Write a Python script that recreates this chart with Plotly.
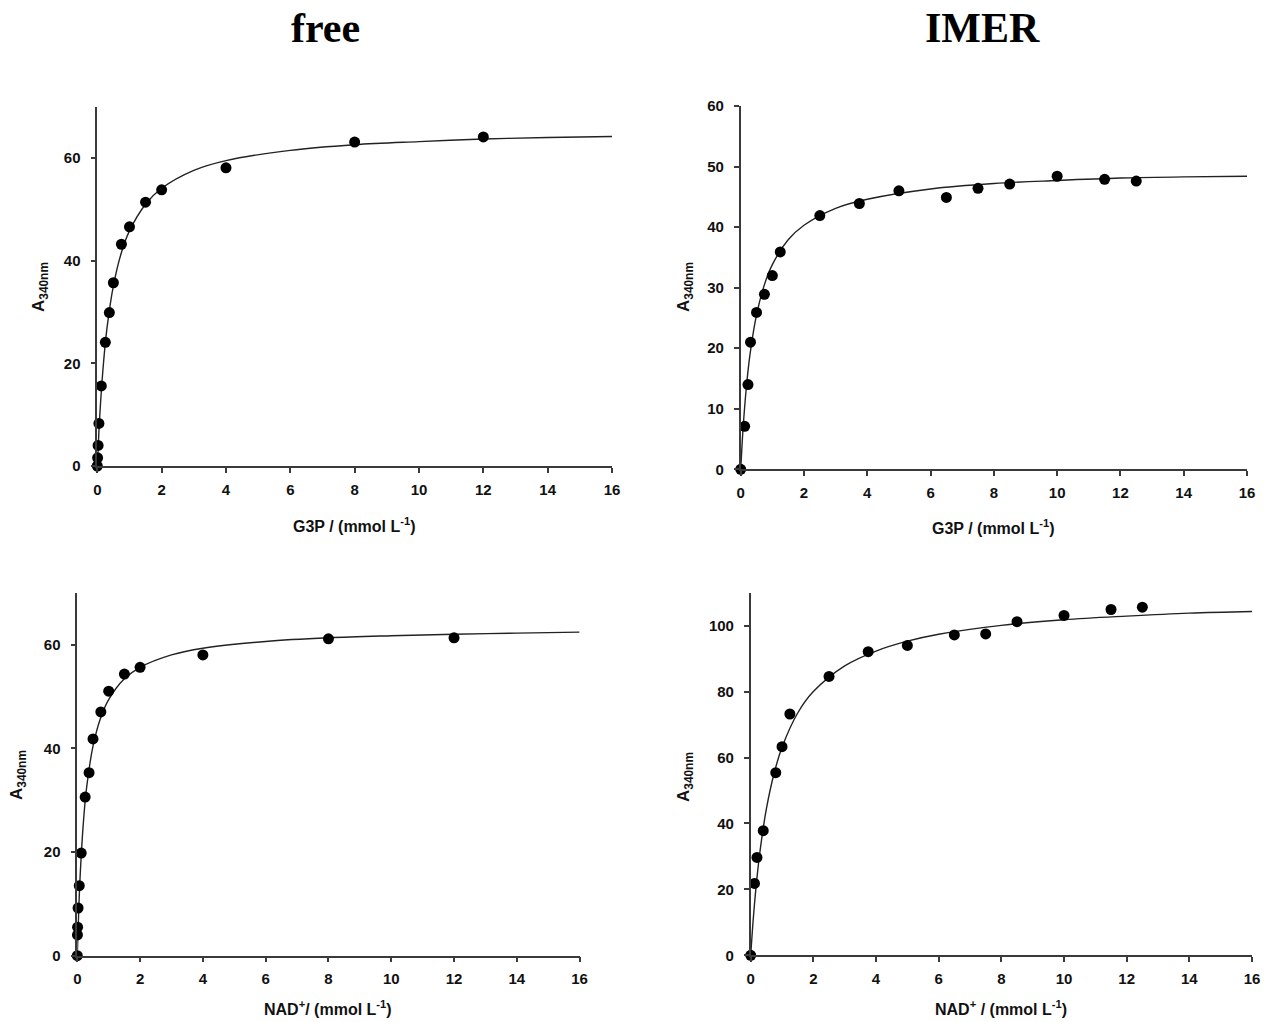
import plotly.graph_objects as go

W, H = 1265, 1022

# ---------------- data ----------------
# free enzyme, G3P
free_g3p_x = [0, 0.01, 0.025, 0.05, 0.125, 0.25, 0.375, 0.5, 0.75, 1.0, 1.5, 2.0, 4.0, 8.0, 12.0]
free_g3p_y = [0, 1.6, 4.0, 8.3, 15.6, 24.1, 29.9, 35.7, 43.2, 46.6, 51.4, 53.8, 58.1, 63.1, 64.1]
free_g3p_fit_x = [0, 0.05, 0.1, 0.2, 0.3, 0.5, 0.75, 1, 1.5, 2, 3, 4, 6, 8, 10, 12, 14, 16]
free_g3p_fit_y = [0, 6.7, 12.2, 20.6, 26.8, 35.1, 41.6, 45.8, 51.0, 54.1, 57.6, 59.5, 61.5, 62.6, 63.2, 63.7, 64.0, 64.2]

# IMER, G3P
imer_g3p_x = [0, 0.125, 0.23, 0.31, 0.5, 0.75, 1.0, 1.25, 2.5, 3.75, 5.0, 6.5, 7.5, 8.5, 10.0, 11.5, 12.5]
imer_g3p_y = [0, 7.1, 14.0, 21.0, 25.9, 28.9, 32.0, 35.9, 41.9, 43.9, 46.0, 44.9, 46.4, 47.1, 48.4, 47.9, 47.6]
imer_g3p_fit_x = [0, 0.05, 0.1, 0.2, 0.3, 0.5, 0.75, 1, 1.5, 2, 3, 4, 6, 8, 10, 12, 14, 16]
imer_g3p_fit_y = [0, 4.7, 8.6, 14.7, 19.2, 25.5, 30.5, 33.8, 37.9, 40.3, 43.1, 44.6, 46.3, 47.2, 47.7, 48.1, 48.3, 48.4]

# free enzyme, NAD+
free_nad_x = [0, 0.005, 0.01, 0.025, 0.0625, 0.125, 0.25, 0.375, 0.5, 0.75, 1.0, 1.5, 2.0, 4.0, 8.0, 12.0]
free_nad_y = [0, 4.0, 5.5, 9.2, 13.5, 19.8, 30.6, 35.3, 41.8, 47.0, 51.0, 54.3, 55.6, 58.0, 61.1, 61.3]
free_nad_fit_x = [0, 0.02, 0.05, 0.1, 0.2, 0.3, 0.5, 0.75, 1, 1.5, 2, 3, 4, 6, 8, 10, 12, 14, 16]
free_nad_fit_y = [0, 4.2, 9.5, 16.5, 26.2, 32.6, 40.4, 46.0, 49.4, 53.4, 55.6, 58.0, 59.3, 60.6, 61.3, 61.7, 62.0, 62.2, 62.4]

# IMER, NAD+
imer_nad_x = [0, 0.12, 0.2, 0.4, 0.8, 1.0, 1.25, 2.5, 3.75, 5.0, 6.5, 7.5, 8.5, 10.0, 11.5, 12.5]
imer_nad_y = [0, 21.8, 29.7, 37.8, 55.4, 63.3, 73.2, 84.6, 92.1, 94.0, 97.2, 97.5, 101.2, 103.1, 104.9, 105.6]
imer_nad_fit_x = [0, 0.05, 0.1, 0.2, 0.3, 0.5, 0.75, 1, 1.5, 2, 3, 4, 5, 6, 8, 10, 12, 14, 16]
imer_nad_fit_y = [0, 7.0, 13.2, 23.5, 31.8, 44.4, 55.3, 63.1, 73.5, 80.0, 87.8, 92.3, 95.3, 97.4, 100.1, 101.8, 102.9, 103.8, 104.3]

panel_titles = ["free", "IMER"]
x_titles = ["G3P / (mmol L<sup>-1</sup>)", "G3P / (mmol L<sup>-1</sup>)",
            "NAD<sup>+</sup>/ (mmol L<sup>-1</sup>)", "NAD<sup>+</sup> / (mmol L<sup>-1</sup>)"]
y_title = "A<sub>340nm</sub>"
y_ranges = [70, 60, 70, 110]
y_dticks = [20, 10, 20, 20]

# ---------------- layout helpers ----------------
def px(x):
    return x / W

def py(y):
    return 1 - y / H

# pixel boxes: (left, right, top, bottom)
boxes = [
    (97.3, 612.0, 106.7, 466.0),
    (740.7, 1247.0, 106.0, 469.3),
    (77.3, 579.6, 592.7, 955.7),
    (750.7, 1252.0, 592.7, 955.3),
]
xtitle_y = [525, 527, 1008, 1008]

series = [
    (free_g3p_x, free_g3p_y, free_g3p_fit_x, free_g3p_fit_y),
    (imer_g3p_x, imer_g3p_y, imer_g3p_fit_x, imer_g3p_fit_y),
    (free_nad_x, free_nad_y, free_nad_fit_x, free_nad_fit_y),
    (imer_nad_x, imer_nad_y, imer_nad_fit_x, imer_nad_fit_y),
]

fig = go.Figure()
axis_color = "#3a3a3a"
sans = "Liberation Sans, Arial, sans-serif"
tick_font = dict(family=sans, size=15, color="#111", weight="bold")

layout = dict(
    width=W, height=H,
    margin=dict(l=0, r=0, t=0, b=0, pad=0, autoexpand=False),
    paper_bgcolor="white", plot_bgcolor="white",
    showlegend=False,
    annotations=[],
)

for i, ((sx, sy, fx, fy), (l, r, t, b)) in enumerate(zip(series, boxes)):
    n = "" if i == 0 else str(i + 1)
    xa, ya = "x" + n, "y" + n
    fig.add_trace(go.Scatter(x=fx, y=fy, mode="lines", line=dict(color="#222", width=1.4, shape="spline"),
                             xaxis=xa, yaxis=ya, hoverinfo="skip"))
    fig.add_trace(go.Scatter(x=sx, y=sy, mode="markers", marker=dict(color="black", size=11),
                             cliponaxis=False, xaxis=xa, yaxis=ya))
    common = dict(showgrid=False, zeroline=False, showline=True, linecolor=axis_color, linewidth=1.5,
                  ticks="outside", ticklen=5, tickwidth=1.5, tickcolor=axis_color,
                  tickfont=tick_font, automargin=False)
    layout["xaxis" + n] = dict(domain=[px(l), px(r)], range=[0, 16], dtick=2, tick0=0,
                               anchor=ya, ticklabelstandoff=4, **common)
    layout["yaxis" + n] = dict(domain=[py(b), py(t)], range=[0, y_ranges[i]], dtick=y_dticks[i], tick0=0,
                               anchor=xa, ticklabelstandoff=7, **common)
    layout["annotations"].append(dict(
        text=x_titles[i], xref="paper", yref="paper",
        x=px((l + r) / 2), y=py(xtitle_y[i]), xanchor="center", yanchor="middle",
        showarrow=False, font=dict(family=sans, size=16, color="#111", weight="bold")))

# y-axis titles
ytitle_pos = [(40, 287), (685, 287), (18, 775), (685, 777)]
for (x, y) in ytitle_pos:
    layout["annotations"].append(dict(
        text=y_title, xref="paper", yref="paper",
        x=px(x), y=py(y), xanchor="center", yanchor="middle", textangle=-90,
        showarrow=False, font=dict(family=sans, size=17, color="#111", weight="bold")))

# panel titles
for txt, x in zip(panel_titles, [325, 982]):
    layout["annotations"].append(dict(
        text=txt, xref="paper", yref="paper",
        x=px(x), y=py(28), xanchor="center", yanchor="middle",
        showarrow=False, font=dict(family="Liberation Serif, Times New Roman, serif", size=42,
                                   color="black", weight="bold")))

fig.update_layout(**layout)
fig.write_html("out.html", config={"displayModeBar": False},
               post_script="document.body.style.margin='0';document.body.style.overflow='hidden';")
